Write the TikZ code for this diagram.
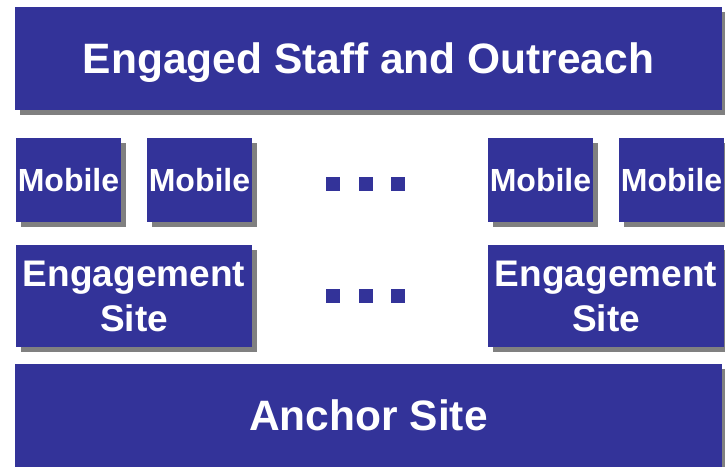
\documentclass[tikz,border=0pt]{standalone}
\usepackage{fontspec}
\setmainfont{Liberation Sans}
\usepackage{xcolor}
\usetikzlibrary{shadows,positioning}
\definecolor{siteblue}{RGB}{51,51,153}
\definecolor{shadowgray}{RGB}{128,128,128}
\tikzset{
  siteblock/.style={rectangle,fill=siteblue,inner sep=0pt,align=center,
    text=white,font=\bfseries,
    drop shadow={shadow xshift=5bp,shadow yshift=-5bp,fill=shadowgray,opacity=1}},
  wideblock/.style={siteblock,minimum width=707bp,minimum height=103bp,
    text depth=0pt,font=\fontsize{42.5bp}{48bp}\selectfont\bfseries},
  mobileblock/.style={siteblock,minimum width=105bp,minimum height=84bp,
    font=\fontsize{32bp}{38bp}\selectfont\bfseries},
  engageblock/.style={siteblock,minimum width=236bp,minimum height=102bp,
    font=\fontsize{37bp}{45bp}\selectfont\bfseries},
  dotmark/.style={rectangle,fill=siteblue,inner sep=0pt,minimum size=14bp}
}

\begin{document}
\begin{tikzpicture}[x=1bp,y=-1bp]
  \useasboundingbox (0,0) rectangle (725,467);
  % Top band
  \node[wideblock] (outreach) at (368.5,58.5) {Engaged Staff and Outreach};
  % Mobile row
  \node[mobileblock] (mob1) at (68.5,180) {Mobile};
  \node[mobileblock] (mob2) at (199.5,180) {Mobile};
  \node[mobileblock] (mob3) at (540.5,180) {Mobile};
  \node[mobileblock] (mob4) at (671.5,180) {Mobile};
  % Engagement row
  \node[engageblock] (eng1) at (134,296) {Engagement\\Site};
  \node[engageblock] (eng2) at (606,296) {Engagement\\Site};
  % Bottom band
  \node[wideblock] (anchor) at (368.5,415.5) {Anchor Site};

  % Ellipsis marks
  \foreach \x [count=\i] in {333,365.5,398} {
    \node[dotmark] (mdot\i) at (\x,184) {};
    \node[dotmark] (edot\i) at (\x,296.5) {};
  }
\end{tikzpicture}
\end{document}
